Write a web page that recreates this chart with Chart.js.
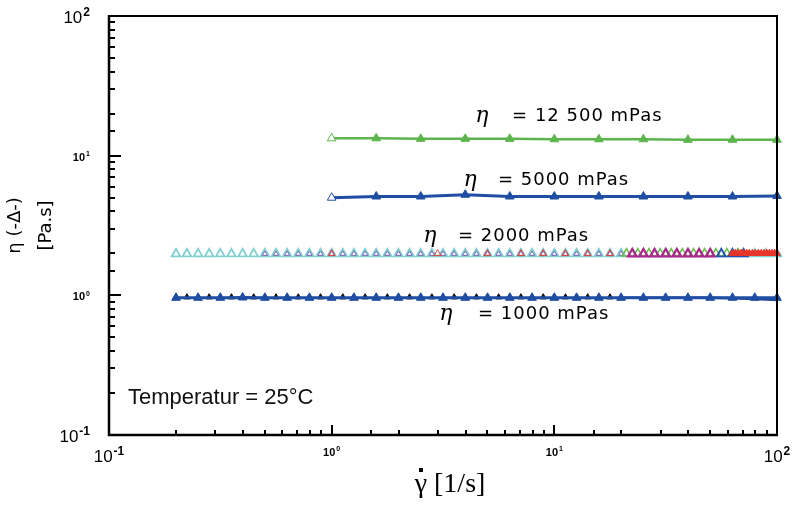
<!DOCTYPE html>
<html>
<head>
<meta charset="utf-8">
<script src="https://cdn.jsdelivr.net/npm/chart.js@4/dist/chart.umd.min.js"></script>
<style>
  html, body { margin: 0; padding: 0; background: #fff; }
  #wrap { width: 793px; height: 514px; }
</style>
</head>
<body>
<div id="wrap"><canvas id="viskositaet"></canvas></div>
<script>
'use strict';

// Schergeschwindigkeit [1/s] / Viskosität [Pa.s]
const x12500 = [1, 1.585, 2.512, 3.981, 6.31, 10, 15.85, 25.12, 39.81, 63.1, 100];
const y12500 = [13.3, 13.3, 13.2, 13.2, 13.2, 13.1, 13.1, 13.1, 13.0, 13.0, 13.0];

const x5000 = [1, 1.585, 2.512, 3.981, 6.31, 10, 15.85, 25.12, 39.81, 63.1, 100];
const y5000 = [5.0, 5.1, 5.1, 5.25, 5.1, 5.1, 5.1, 5.1, 5.1, 5.1, 5.15];

// 2000 mPas - mehrere Messläufe übereinander
const x2000Cyan = [0.2, 0.2239, 0.2512, 0.2818, 0.3162, 0.3548, 0.3981, 0.4467, 0.5012, 0.5623,
  0.631, 0.7079, 0.7943, 0.8913, 1, 1.122, 1.259, 1.413, 1.585, 1.778,
  1.995, 2.239, 2.512, 2.818, 3.162, 3.548, 3.981, 4.467, 5.012, 5.623,
  6.31, 7.079, 7.943, 8.913, 10, 11.22, 12.59, 14.13, 15.85, 17.78,
  19.95, 22.39, 25.12, 28.18, 31.62, 35.48, 39.81, 44.67, 50.12, 56.23,
  63.1, 70.79, 79.43, 89.13, 100];
const y2000Cyan = [1.98, 1.98, 1.98, 1.98, 1.98, 1.98, 1.98, 1.98, 1.98, 1.98,
  1.98, 1.98, 1.98, 1.98, 1.98, 1.98, 1.98, 1.98, 1.98, 1.98,
  1.98, 1.98, 1.98, 1.98, 1.98, 1.98, 1.98, 1.98, 1.98, 1.98,
  1.98, 1.98, 1.98, 1.98, 1.98, 1.98, 1.98, 1.98, 1.98, 1.98,
  1.98, 1.98, 1.98, 1.98, 1.98, 1.98, 1.98, 1.98, 1.98, 1.98,
  1.98, 1.98, 1.98, 1.98, 1.98];

const x2000Violett = [0.5012, 0.5623, 0.631, 0.7079, 0.7943, 0.8913, 1, 1.122, 1.259, 1.413,
  1.585, 1.778, 1.995, 2.239, 2.512, 2.818, 3.162, 3.548, 3.981, 4.467,
  5.012, 5.623, 6.31, 7.079, 7.943, 8.913, 10, 11.22, 12.59, 14.13,
  15.85, 17.78, 19.95];
const y2000Violett = [1.98, 1.98, 1.98, 1.98, 1.98, 1.98, 1.98, 1.98, 1.98, 1.98,
  1.98, 1.98, 1.98, 1.98, 1.98, 1.98, 1.98, 1.98, 1.98, 1.98,
  1.98, 1.98, 1.98, 1.98, 1.98, 1.98, 1.98, 1.98, 1.98, 1.98,
  1.98, 1.98, 1.98];

const x2000Rot = [1, 2.99, 5.0, 7.08, 8.91, 11.2, 14.1, 17.8];
const y2000Rot = [1.99, 1.99, 1.99, 1.99, 1.99, 1.99, 1.99, 1.99];

const x2000Gruen = [21.1, 23.7, 26.6, 29.9, 33.5, 37.6, 42.2, 47.3, 53.1, 59.6, 66.8];
const y2000Gruen = [1.99, 1.99, 1.99, 1.99, 1.99, 1.99, 1.99, 1.99, 1.99, 1.99, 1.99];

const x2000Magenta = [22.39, 25.12, 28.18, 31.62, 35.48, 39.81, 44.67, 50.12];
const y2000Magenta = [1.98, 1.98, 1.98, 1.98, 1.98, 1.98, 1.98, 1.98];

const x2000Blau = [56.23, 63.1, 70.79];
const y2000Blau = [1.98, 1.98, 1.98];

const x2000RotDicht = [63, 65, 67, 69, 71, 73, 75, 77.5, 80, 82.5, 85, 87.5, 90, 92.5, 95, 97.5, 100];
const y2000RotDicht = [2.0, 2.0, 2.0, 2.0, 2.0, 2.0, 2.0, 2.0, 2.0, 2.0, 2.0, 2.0, 2.0, 2.0, 2.0, 2.0, 2.0];

// 1000 mPas
const x1000Schwarz = [0.2, 0.2239, 0.2512, 0.2818, 0.3162, 0.3548, 0.3981, 0.4467, 0.5012, 0.5623,
  0.631, 0.7079, 0.7943, 0.8913, 1, 1.122, 1.259, 1.413, 1.585, 1.778,
  1.995, 2.239, 2.512, 2.818, 3.162, 3.548, 3.981, 4.467, 5.012, 5.623,
  6.31, 7.079, 7.943, 8.913, 10, 11.22, 12.59, 14.13, 15.85, 17.78];
const y1000Schwarz = [0.97, 0.97, 0.97, 0.97, 0.97, 0.97, 0.97, 0.97, 0.97, 0.97,
  0.97, 0.97, 0.97, 0.97, 0.97, 0.97, 0.97, 0.97, 0.97, 0.97,
  0.97, 0.97, 0.97, 0.97, 0.97, 0.97, 0.97, 0.97, 0.97, 0.97,
  0.97, 0.97, 0.97, 0.97, 0.97, 0.97, 0.97, 0.97, 0.97, 0.97];

const x1000Blau = [0.2, 0.2512, 0.3162, 0.3981, 0.5012, 0.631, 0.7943, 1, 1.259, 1.585,
  1.995, 2.512, 3.162, 3.981, 5.012, 6.31, 7.943, 10, 12.59, 15.85,
  19.95, 25.12, 31.62, 39.81, 50.12, 63.1, 79.43, 100];
const y1000Blau = [0.96, 0.96, 0.96, 0.965, 0.96, 0.96, 0.96, 0.96, 0.96, 0.96,
  0.96, 0.96, 0.96, 0.96, 0.96, 0.96, 0.96, 0.96, 0.96, 0.96,
  0.96, 0.96, 0.96, 0.96, 0.96, 0.96, 0.96, 0.96];

const x1000Linie = [19.95, 31.62, 50.12, 63.1, 79.43, 100];
const y1000Linie = [0.96, 0.96, 0.96, 0.955, 0.94, 0.925];

// Achsenbeschriftung (Dekaden): Basis 10 mit Exponent
const dekaden = [0.1, 1, 10, 100];
const dekadenExp = ['-1', '0', '1', '2'];

const viskoTexte = ['= 12 500 mPas', '= 5000 mPas', '= 2000 mPas', '= 1000 mPas'];
const temperaturText = 'Temperatur = 25°C';
const xTitel = ['\u03B3', ' [1/s]'];
const yTitel = ['\u03B7 (-\u0394-)', '[Pa.s]'];

function punkte(xs, ys) {
  return xs.map((x, i) => ({ x: x, y: ys[i] }));
}

function istDekade(v) {
  const l = Math.log10(v);
  return Math.abs(l - Math.round(l)) < 1e-6;
}

// offenes Dreieck
function offen(label, xs, ys, farbe, radius, breite) {
  return {
    label: label,
    data: punkte(xs, ys),
    showLine: false,
    pointStyle: 'triangle',
    pointRadius: radius,
    pointBorderWidth: breite,
    pointBorderColor: farbe,
    pointBackgroundColor: 'rgba(0,0,0,0)',
    clip: false
  };
}

// gefülltes Dreieck mit Linie
function gefuellt(label, xs, ys, farbe, radius, linie, ersterOffen) {
  return {
    label: label,
    data: punkte(xs, ys),
    showLine: linie > 0,
    borderColor: farbe,
    borderWidth: linie,
    pointStyle: 'triangle',
    pointRadius: radius,
    pointBorderWidth: 1,
    pointBorderColor: farbe,
    pointBackgroundColor: xs.map((x, i) => (ersterOffen && i === 0) ? '#ffffff' : farbe),
    tension: 0,
    clip: false
  };
}

// "10" mit hochgestelltem Exponent; gross = Randdekaden
function zeichneDekade(ctx, exp, x, y, gross, ausrichtung) {
  const fBasis = gross ? '17px "Liberation Sans"' : 'bold 11px "Liberation Sans"';
  const fExp = gross ? 'bold 12px "Liberation Sans"' : 'bold 7px "Liberation Sans"';
  const hoch = gross ? 5 : 3.5;
  ctx.font = fBasis;
  const wb = ctx.measureText('10').width;
  ctx.font = fExp;
  const we = ctx.measureText(exp).width;
  const w = wb + 1 + we;
  const x0 = ausrichtung === 'right' ? x - w : x - w / 2;
  ctx.textAlign = 'left';
  ctx.textBaseline = 'middle';
  ctx.font = fBasis;
  ctx.fillText('10', x0, y);
  ctx.font = fExp;
  ctx.fillText(exp, x0 + wb + 1, y - hoch);
}

const rahmenPlugin = {
  id: 'rahmen',
  afterDraw(chart, args, opts) {
    const ctx = chart.ctx;
    const { left, right, top, bottom } = chart.chartArea;
    const sx = chart.scales.x;
    const sy = chart.scales.y;
    ctx.save();

    // Rahmen
    ctx.strokeStyle = '#000';
    ctx.lineWidth = 2;
    ctx.beginPath();
    ctx.moveTo(left, top);
    ctx.lineTo(right, top);
    ctx.lineTo(right, bottom);
    ctx.stroke();
    ctx.lineWidth = 2.5;
    ctx.beginPath();
    ctx.moveTo(left, top - 1);
    ctx.lineTo(left, bottom);
    ctx.lineTo(right + 1, bottom);
    ctx.stroke();

    // Teilstriche nach innen
    ctx.lineWidth = 2;
    sy.ticks.forEach(t => {
      const py = Math.round(sy.getPixelForValue(t.value));
      const len = istDekade(t.value) ? 12 : 6;
      ctx.beginPath();
      ctx.moveTo(left, py);
      ctx.lineTo(left + len, py);
      ctx.stroke();
    });
    sx.ticks.forEach(t => {
      const px = Math.round(sx.getPixelForValue(t.value));
      const len = istDekade(t.value) ? 10 : 5;
      ctx.beginPath();
      ctx.moveTo(px, bottom);
      ctx.lineTo(px, bottom - len);
      ctx.stroke();
    });

    // Dekadenbeschriftung
    ctx.fillStyle = '#000';
    dekaden.forEach((d, i) => {
      const gross = i === 0 || i === dekaden.length - 1;
      zeichneDekade(ctx, dekadenExp[i], left - 19, sy.getPixelForValue(d) + 2, gross, 'right');
      zeichneDekade(ctx, dekadenExp[i], sx.getPixelForValue(d), bottom + (gross ? 22 : 18), gross, 'center');
    });

    // Achsentitel x: gamma mit Punkt
    ctx.font = '28px "Liberation Serif"';
    ctx.textBaseline = 'middle';
    ctx.textAlign = 'left';
    const wg = ctx.measureText(xTitel[0]).width;
    const wt = wg + ctx.measureText(xTitel[1]).width;
    const tx = (left + right) / 2 + 7 - wt / 2;
    const ty = bottom + 50;
    ctx.fillText(xTitel[0] + xTitel[1], tx, ty);
    ctx.fillRect(Math.round(tx + wg / 2 - 1.5), ty - 17, 4, 4);

    // Viskositätsangaben
    ctx.textBaseline = 'middle';
    opts.anmerkungen.forEach((a, i) => {
      ctx.textAlign = 'center';
      ctx.font = 'italic 22px "DejaVu Serif"';
      ctx.fillText('\u03B7', sx.getPixelForValue(a.eta[0]), sy.getPixelForValue(a.eta[1]));
      ctx.textAlign = 'left';
      ctx.font = '18px "DejaVu Sans"';
      ctx.letterSpacing = '1px';
      ctx.fillText(viskoTexte[i], sx.getPixelForValue(a.text[0]), sy.getPixelForValue(a.text[1]));
      ctx.letterSpacing = '0px';
    });

    ctx.font = '22px "Liberation Sans"';
    ctx.textAlign = 'left';
    ctx.fillStyle = '#111';
    ctx.fillText(temperaturText, sx.getPixelForValue(opts.temperatur[0]), sy.getPixelForValue(opts.temperatur[1]));
    ctx.restore();
  }
};

const farbeGruen = '#5cb54c';
const farbeBlau = '#1f4ea2';

new Chart(document.getElementById('viskositaet'), {
  type: 'scatter',
  data: {
    datasets: [
      gefuellt('12500', x12500, y12500, farbeGruen, 5, 2.5, true),
      gefuellt('5000', x5000, y5000, farbeBlau, 5, 3, true),
      gefuellt('2000 rot', x2000RotDicht, y2000RotDicht, '#e8352a', 4, 3, false),
      offen('2000 blau', x2000Blau, y2000Blau, '#2a4fb0', 5, 1.8),
      offen('2000 magenta', x2000Magenta, y2000Magenta, '#b0258f', 5, 2.2),
      offen('2000 grün', x2000Gruen, y2000Gruen, '#6abf4b', 5, 1.5),
      offen('2000 rot einzeln', x2000Rot, y2000Rot, '#e0403a', 4, 1),
      offen('2000 violett', x2000Violett, y2000Violett, '#7a68c0', 3, 1),
      offen('2000 cyan', x2000Cyan, y2000Cyan, '#7fcfd0', 5, 1.8),
      gefuellt('1000 blau', x1000Blau, y1000Blau, farbeBlau, 5, 3, false),
      gefuellt('1000 linie', x1000Linie, y1000Linie, '#24489a', 0, 2.5, false),
      gefuellt('1000 schwarz', x1000Schwarz, y1000Schwarz, '#111111', 3.5, 0, false)
    ]
  },
  options: {
    responsive: true,
    maintainAspectRatio: false,
    animation: false,
    events: [],
    layout: { padding: { top: 16, right: 16, left: 0, bottom: 0 } },
    scales: {
      x: {
        type: 'logarithmic',
        min: 0.1,
        max: 100,
        grid: { display: false },
        border: { display: false },
        ticks: { display: false },
        afterFit: (s) => { s.height = 79; }
      },
      y: {
        type: 'logarithmic',
        min: 0.1,
        max: 100,
        grid: { display: false },
        border: { display: false },
        ticks: { display: false },
        title: {
          display: true,
          text: yTitel,
          font: { family: 'DejaVu Sans', size: 18, lineHeight: 1.72 },
          color: '#000',
          padding: 0
        },
        afterFit: (s) => { s.width = 109; }
      }
    },
    plugins: {
      legend: { display: false },
      tooltip: { enabled: false },
      rahmen: {
        anmerkungen: [
          { eta: [4.73, 19.0], text: [6.46, 19.0] },
          { eta: [4.18, 6.63], text: [5.58, 6.63] },
          { eta: [2.76, 2.64], text: [3.69, 2.64] },
          { eta: [3.26, 0.731], text: [4.54, 0.731] }
        ],
        temperatur: [0.1217, 0.184]
      }
    }
  },
  plugins: [rahmenPlugin]
});
</script>
</body>
</html>
